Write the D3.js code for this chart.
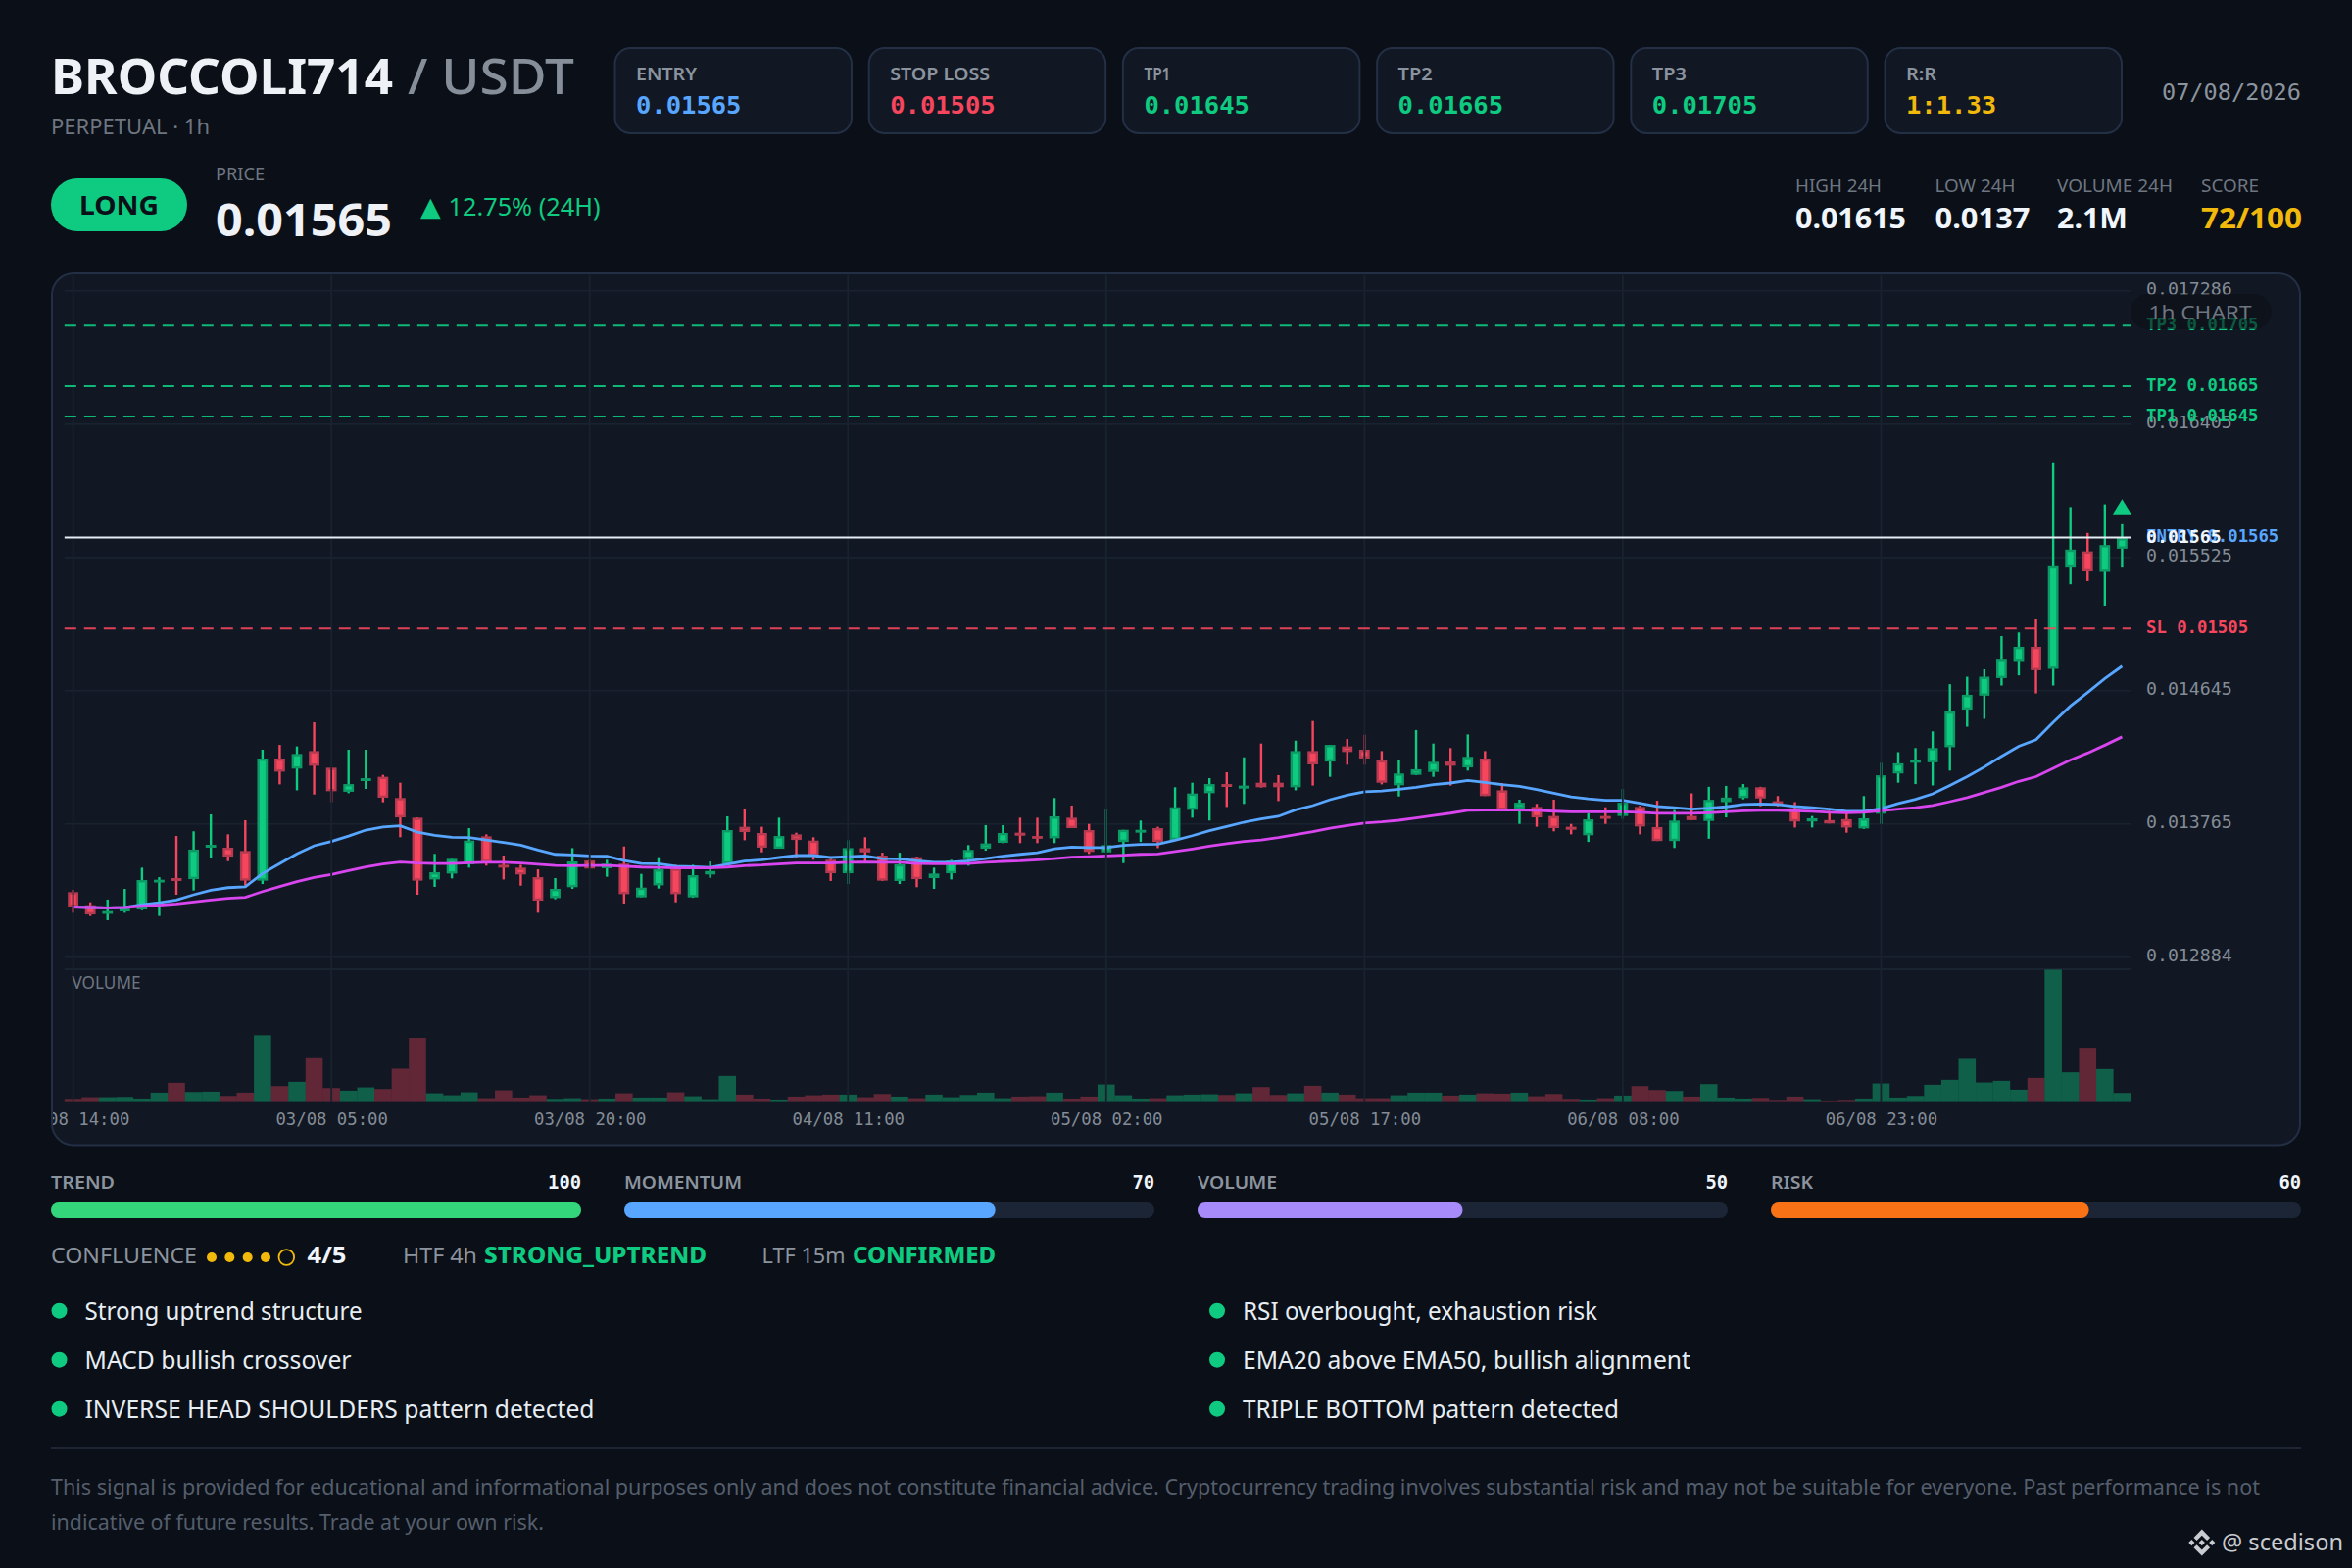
<!DOCTYPE html>
<html><head><meta charset="utf-8">
<script src="https://cdn.jsdelivr.net/npm/d3@7"></script>
<style>html,body{margin:0;padding:0;background:#0b0f17}svg{display:block}text{white-space:pre}</style>
</head><body><svg id="c" width="2400" height="1600"></svg>
<script>
// Prices in millionths of USDT (13765 = 0.013765)
const opens=[13314,13228,13172,13187,13200,13379,13407,13400,13608,13608,
13586,13390,14197,14130,14246,14136,13977,14048,14076,13936,
13806,13398,13437,13498,13683,13495,13476,13413,13275,13347,
13523,13472,13502,13280,13359,13470,13280,13431,13502,13746,
13705,13601,13696,13655,13528,13439,13605,13556,13388,13545,
13407,13439,13532,13601,13640,13707,13685,13670,13806,13724,
13577,13646,13707,13737,13659,13858,13968,14028,13998,14037,
14037,14007,14246,14177,14277,14255,14186,14020,14089,14108,
14177,14138,14197,13987,13867,13877,13817,13746,13690,13817,
13817,13877,13744,13652,13817,13784,13909,13936,14007,13915,
13869,13781,13790,13796,13735,13832,14098,14172,14172,14272,
14520,14612,14728,14841,14935,14789,15458,15565,15430,15583];
const closes=[13217,13167,13189,13206,13394,13396,13388,13595,13627,13549,
13390,14197,14110,14227,14149,13981,14028,14067,13938,13808,
13390,13446,13534,13655,13513,13476,13431,13258,13336,13517,
13470,13502,13301,13344,13465,13301,13426,13454,13724,13711,
13608,13685,13659,13554,13439,13605,13577,13390,13498,13400,
13437,13523,13593,13636,13705,13687,13668,13815,13737,13580,
13625,13726,13726,13646,13875,13966,14028,14009,14018,14007,
14007,14246,14158,14287,14240,14197,14037,14098,14126,14175,
14149,14208,13949,13858,13905,13808,13737,13726,13795,13798,
13905,13748,13652,13787,13790,13924,13939,14007,13933,13887,
13781,13802,13768,13741,13802,14086,14165,14187,14266,14508,
14618,14737,14856,14935,14780,15467,15577,15433,15607,15653];
const highs=[13329,13247,13265,13336,13476,13413,13685,13716,13828,13696,
13789,14255,14287,14277,14436,14138,14255,14255,14089,14037,
13808,13567,13534,13737,13696,13556,13495,13465,13407,13605,
13528,13528,13616,13435,13545,13495,13495,13517,13815,13867,
13746,13806,13707,13677,13534,13657,13677,13575,13575,13549,
13476,13528,13625,13757,13757,13806,13806,13936,13886,13765,
13867,13726,13787,13746,14007,14037,14067,14106,14205,14296,
14087,14315,14445,14287,14326,14354,14246,14186,14385,14296,
14266,14356,14246,14035,13925,13897,13925,13765,13836,13875,
13996,13886,13918,13857,13967,14010,14016,14028,14010,13949,
13909,13817,13851,13842,13949,14169,14239,14266,14376,14688,
14737,14786,15006,15030,15116,16154,15858,15687,15876,15745];
const lows=[13178,13157,13129,13178,13195,13157,13297,13325,13539,13519,
13357,13368,14026,13987,13959,13908,13968,13996,13908,13677,
13297,13349,13405,13476,13489,13398,13357,13178,13267,13336,
13470,13416,13239,13280,13338,13247,13277,13409,13498,13657,
13577,13601,13541,13528,13388,13368,13517,13388,13368,13347,
13336,13398,13489,13588,13638,13638,13638,13638,13737,13567,
13575,13506,13646,13605,13657,13806,13787,13877,13897,14005,
13916,13987,14018,14076,14156,14156,14026,13946,14087,14076,
14018,14117,13949,13854,13765,13746,13716,13696,13646,13765,
13798,13696,13652,13606,13790,13667,13808,13927,13881,13881,
13741,13741,13768,13707,13732,13765,14037,14028,14019,14117,
14407,14459,14679,14746,14627,14679,15348,15369,15207,15458];
const volumes=[7,12,12,13,8,26,56,28,29,16,26,201,46,59,131,40,32,42,37,99,
193,24,18,27,9,33,11,18,7,9,6,8,24,11,11,27,15,6,77,20,
8,5,14,18,20,20,12,22,14,9,20,12,19,26,9,14,15,26,8,14,
51,18,8,9,18,20,21,19,24,43,19,24,47,26,20,9,9,18,26,26,
17,20,24,23,26,15,22,7,5,9,17,46,34,31,14,52,11,8,10,4,
14,6,2,4,8,54,11,16,50,65,129,57,62,35,71,401,88,163,98,25];
const ema20=[13215,13213,13211,13213,13232,13245,13262,13297,13327,13344,
13349,13437,13502,13567,13621,13649,13685,13724,13744,13752,
13711,13690,13677,13675,13659,13642,13625,13593,13564,13560,
13554,13552,13523,13504,13502,13485,13482,13478,13498,13519,
13528,13543,13556,13556,13543,13549,13554,13536,13534,13521,
13511,13511,13521,13536,13552,13564,13575,13601,13612,13608,
13608,13623,13629,13631,13657,13687,13720,13748,13776,13798,
13815,13858,13886,13925,13955,13977,13983,13994,14007,14024,
14035,14052,14039,14024,14013,13992,13968,13944,13931,13921,
13921,13901,13881,13872,13863,13869,13878,13894,13897,13894,
13881,13872,13863,13848,13848,13866,13900,13927,13964,14019,
14077,14141,14211,14278,14321,14437,14544,14633,14725,14807];
const ema50=[13215,13213,13211,13213,13221,13228,13236,13249,13262,13273,
13280,13318,13351,13383,13411,13431,13457,13480,13500,13513,
13506,13504,13504,13508,13511,13511,13506,13498,13491,13489,
13491,13491,13485,13480,13478,13474,13474,13474,13480,13489,
13493,13500,13506,13506,13506,13511,13513,13511,13511,13504,
13502,13502,13504,13511,13517,13521,13528,13536,13545,13549,
13554,13558,13564,13567,13582,13599,13618,13634,13649,13659,
13675,13694,13713,13737,13754,13770,13778,13789,13804,13821,
13836,13854,13856,13856,13856,13854,13849,13845,13845,13845,
13845,13841,13835,13835,13835,13839,13845,13851,13854,13854,
13851,13848,13842,13839,13842,13851,13863,13872,13887,13912,
13939,13973,14007,14046,14077,14132,14187,14233,14285,14340];
const priceTicks=[17286,16405,15525,14645,13765,12884];
const timeLabels=["02/08 14:00","03/08 05:00","03/08 20:00","04/08 11:00","05/08 02:00","05/08 17:00","06/08 08:00","06/08 23:00"];
const levelNames=["TP3","TP2","TP1","SL"];
const levelValues=[17050,16650,16450,15050];
const entryValue=15650;
const cardLabels=["ENTRY","STOP LOSS","TP1","TP2","TP3","R:R"];
const cardValues=["0.01565","0.01505","0.01645","0.01665","0.01705","1:1.33"];
const cardColors=["#58a6ff","#f6465d","#0ecb81","#0ecb81","#0ecb81","#f0b90b"];
const statLabels=["HIGH 24H","LOW 24H","VOLUME 24H","SCORE"];
const statValues=["0.01615","0.0137","2.1M","72/100"];
const metricLabels=["TREND","MOMENTUM","VOLUME","RISK"];
const metricValues=[100,70,50,60];
const metricColors=["#34d67c","#58a6ff","#a78bfa","#f97316"];
const bulletsLeft=["Strong uptrend structure","MACD bullish crossover","INVERSE HEAD SHOULDERS pattern detected"];
const bulletsRight=["RSI overbought, exhaustion risk","EMA20 above EMA50, bullish alignment","TRIPLE BOTTOM pattern detected"];
const confluenceDots=[1,1,1,1,0];

const SANS='"Noto Sans",sans-serif', MONO='"DejaVu Sans Mono",monospace';
const GREEN='#0ecb81', RED='#f6465d', PANEL='#111824', BORDER='#232f45', GRID='#18232f';
const fmt=v=>(v/1e6).toFixed(6), fmt5=v=>(v/1e6).toFixed(5);
const svg=d3.select('#c');
function T(g,x,y,s,o={}){const t=g.append('text').attr('x',x).attr('y',y).text(s)
 .attr('font-family',o.f||SANS).attr('font-size',o.s||20).attr('font-weight',o.w||400)
 .attr('fill',o.c||'#e6edf3').attr('text-anchor',o.a||'start');
 if(o.ls) t.attr('letter-spacing',o.ls);
 if(o.tl) t.attr('textLength',o.tl).attr('lengthAdjust','spacingAndGlyphs');
 return t;}
svg.append('rect').attr('width',2400).attr('height',1600).attr('fill','#0b0f17');

// header
T(svg,52,96,'BROCCOLI714',{s:50.5,w:700,c:'#eef2f7',tl:349});
T(svg,416,96,'/ USDT',{s:50.5,w:500,c:'#868e99',tl:170});
T(svg,52,137,'PERPETUAL · 1h',{s:22,c:'#6e7681',tl:162});
const cardX=d3.scaleLinear().domain([0,5]).range([627.5,1923.5]);
const cardLabelW=[62,102,27,35,35,31];
cardLabels.forEach((l,i)=>{const x=cardX(i);
 svg.append('rect').attr('x',x).attr('y',49).attr('width',241.5).attr('height',87).attr('rx',16)
  .attr('fill',PANEL).attr('stroke',BORDER).attr('stroke-width',2);
 T(svg,x+21.5,82,l,{s:17.5,w:600,c:'#8b949e',tl:cardLabelW[i]});
 T(svg,x+21.5,115.5,cardValues[i],{s:25.5,w:700,f:MONO,c:cardColors[i]});
});
T(svg,2348,101.5,'07/08/2026',{s:23.6,f:MONO,c:'#8b949e',a:'end'});

// signal row
svg.append('rect').attr('x',52).attr('y',182).attr('width',139).attr('height',54).attr('rx',27).attr('fill',GREEN);
T(svg,121.5,218.5,'LONG',{s:26,w:700,c:'#0b0f17',a:'middle',tl:81});
T(svg,220,184,'PRICE',{s:18,c:'#6e7681',tl:50});
T(svg,220,241,'0.01565',{s:47,w:700,c:'#eef2f7',tl:180});
T(svg,429,220,'▲',{s:27,f:'"DejaVu Sans"',c:GREEN});
T(svg,457.5,220,'12.75% (24H)',{s:24.5,c:GREEN,tl:155});
const statX=[1832,1974.5,2099,2246];
const statLabelW=[88,82,118,59];
const statValueW=[113,97,72,103];
statLabels.forEach((l,i)=>{
 T(svg,statX[i],196,l,{s:17.5,c:'#6e7681',tl:statLabelW[i]});
 T(svg,statX[i],233,statValues[i],{s:29,w:700,c:i==3?'#f0b90b':'#f0f6fc',tl:statValueW[i]});
});

// chart panel
svg.append('rect').attr('x',53).attr('y',279).attr('width',2294).attr('height',889.5).attr('rx',22)
 .attr('fill',PANEL).attr('stroke',BORDER).attr('stroke-width',2);
svg.append('clipPath').attr('id','pc').append('rect').attr('x',54).attr('y',280).attr('width',2292).attr('height',888).attr('rx',20);
const P=svg.append('g').attr('clip-path','url(#pc)');
const x=d3.scaleLinear().domain([0,opens.length-1]).range([74.6,2165.4]);
const y=d3.scaleLinear().domain([12884,17286]).range([976.8,296.8]);
const vY=d3.scaleLinear().domain([0,d3.max(volumes)]).range([1123.6,989.5]);
const step=x(1)-x(0), L=x(0)-step/2, R=x(opens.length-1)+step/2;

// horizontal grid
P.append('g').selectAll('line').data(priceTicks).join('line')
 .attr('x1',L).attr('x2',R).attr('y1',d=>y(d)).attr('y2',d=>y(d)).attr('stroke',GRID).attr('stroke-width',1.6);
P.append('line').attr('x1',L).attr('x2',R).attr('y1',989).attr('y2',989).attr('stroke','#1c2735').attr('stroke-width',1.6);

// volume
P.append('g').selectAll('rect').data(volumes).join('rect')
 .attr('x',(d,i)=>x(i)-step/2).attr('width',step).attr('y',d=>vY(d)).attr('height',d=>vY(0)-vY(d))
 .attr('fill',(d,i)=>closes[i]>=opens[i]?GREEN:RED).attr('fill-opacity',(d,i)=>closes[i]>=opens[i]?0.4:0.35);

// candles
const cg=P.append('g');
opens.forEach((o,i)=>{const up=closes[i]>=o,c=up?GREEN:RED,s=up?'#0c9b65':'#b83a50';
 cg.append('line').attr('x1',x(i)).attr('x2',x(i)).attr('y1',y(highs[i])).attr('y2',y(lows[i])).attr('stroke',c).attr('stroke-width',2.4);
 const t=y(Math.max(o,closes[i]))+1.2,b=y(Math.min(o,closes[i]))-1.2;
 cg.append('rect').attr('x',x(i)-4.2).attr('width',8.4).attr('y',t).attr('height',Math.max(b-t,0.4))
  .attr('fill',c).attr('stroke',s).attr('stroke-width',2.4);
});

// EMA lines
const ln=d3.line().x((d,i)=>x(i)).y(d=>y(d));
P.append('path').attr('d',ln(ema20)).attr('fill','none').attr('stroke','#58a6ff').attr('stroke-width',2.8);
P.append('path').attr('d',ln(ema50)).attr('fill','none').attr('stroke','#d946ef').attr('stroke-width',2.8);

// vertical grid (over the series)
const timeIdx=timeLabels.map((d,i)=>i*15);
P.append('g').selectAll('line').data(timeIdx).join('line')
 .attr('x1',d=>x(d)).attr('x2',d=>x(d)).attr('y1',281).attr('y2',1124).attr('stroke',GRID).attr('stroke-width',1.8);
T(P,73.5,1009,'VOLUME',{s:18,c:'#6e7681',tl:70});

// levels
const lg=P.append('g');
levelValues.forEach((v,i)=>{const c=levelNames[i]=='SL'?RED:GREEN;
 lg.append('line').attr('x1',L).attr('x2',R).attr('y1',y(v)-1).attr('y2',y(v)-1)
  .attr('stroke',c).attr('stroke-opacity',0.9).attr('stroke-width',2).attr('stroke-dasharray','12 8');
});
lg.append('line').attr('x1',L).attr('x2',R).attr('y1',y(entryValue)-1).attr('y2',y(entryValue)-1)
 .attr('stroke','#e6edf3').attr('stroke-width',2.2);

// signal marker
const mx=x(opens.length-1), my=y(highs[highs.length-1]);
P.append('path').attr('d',d3.line()([[mx-9.5,my-10],[mx+9.5,my-10],[mx,my-25.5]])+'Z').attr('fill',GREEN);

// axes
const ya=P.append('g').attr('transform','translate(2174,0)')
 .call(d3.axisRight(y).tickValues(priceTicks).tickFormat(fmt).tickSize(0).tickPadding(16));
ya.select('.domain').remove();
ya.selectAll('text').attr('dy',4).attr('font-family',MONO).attr('font-size',18.2).attr('fill','#848c96');
const xa=P.append('g').attr('transform','translate(0,1124)')
 .call(d3.axisBottom(x).tickValues(timeIdx).tickFormat((d,i)=>timeLabels[i]).tickSize(0).tickPadding(24));
xa.select('.domain').remove();
xa.selectAll('text').attr('dy',0).attr('font-family',MONO).attr('font-size',17.3).attr('fill','#848c96');

// level labels
levelValues.forEach((v,i)=>{const c=levelNames[i]=='SL'?RED:GREEN;
 T(P,2190,y(v)+4,levelNames[i]+' '+fmt5(v),{s:17.3,w:700,f:MONO,c});
});
T(P,2190,y(entryValue)+3,'ENTRY '+fmt5(entryValue),{s:17.3,w:700,f:MONO,c:'#58a6ff'});
T(P,2190,y(entryValue)+4,fmt5(entryValue),{s:18.2,w:700,f:MONO,c:'#f0f6fc'});

// badge
P.append('rect').attr('x',2174).attr('y',300).attr('width',144).attr('height',36).attr('rx',18).attr('fill','#0b0f17').attr('fill-opacity',0.62);
T(P,2192.5,326,'1h CHART',{s:19.5,c:'#6e7681',tl:105});

// metrics
const mX=d3.scaleLinear().domain([0,3]).range([52,1807]);
const mW=d3.scaleLinear().domain([0,100]).range([0,541]);
const metricLabelW=[65,120,81,43];
metricLabels.forEach((l,i)=>{const X=mX(i);
 T(svg,X,1213,l,{s:17.5,w:600,c:'#8b949e',tl:metricLabelW[i]});
 T(svg,X+541,1213,metricValues[i],{s:18.8,w:700,f:MONO,c:'#f0f6fc',a:'end'});
 svg.append('rect').attr('x',X).attr('y',1227).attr('width',541).attr('height',16).attr('rx',8).attr('fill','#1c2536');
 svg.append('rect').attr('x',X).attr('y',1227).attr('width',mW(metricValues[i])).attr('height',16).attr('rx',8).attr('fill',metricColors[i]);
});

// confluence row
T(svg,52,1289,'CONFLUENCE',{s:22.5,c:'#8b949e',tl:149});
const dotX=d3.scaleLinear().domain([0,3]).range([216,271]);
confluenceDots.forEach((d,i)=>{
 if(d) svg.append('circle').attr('cx',dotX(i)).attr('cy',1283).attr('r',5).attr('fill','#f0b90b');
 else svg.append('circle').attr('cx',292.3).attr('cy',1283).attr('r',7.8).attr('fill','none').attr('stroke','#f0b90b').attr('stroke-width',1.8);
});
T(svg,313.5,1289,'4/5',{s:23,w:700,c:'#f0f6fc',tl:40});
T(svg,411,1289,'HTF 4h',{s:22.5,c:'#8b949e',tl:76});
T(svg,494,1289,'STRONG_UPTREND',{s:23,w:800,c:GREEN,tl:227});
T(svg,777.5,1289,'LTF 15m',{s:22.5,c:'#8b949e',tl:85});
T(svg,870,1289,'CONFIRMED',{s:23,w:800,c:GREEN,tl:146});

// bullets
const bulletLeftW=[283,272,520], bulletRightW=[362,457,384];
[[60.5,86.5,bulletsLeft,bulletLeftW],[1242,1268,bulletsRight,bulletRightW]].forEach(([dx,tx,arr,w])=>arr.forEach((s,i)=>{
 svg.append('circle').attr('cx',dx).attr('cy',1337.7+50*i).attr('r',8).attr('fill',GREEN);
 T(svg,tx,1347+50*i,s,{s:25,c:'#e6edf3',tl:w[i]});
}));

// footer
svg.append('line').attr('x1',52).attr('x2',2348).attr('y1',1478).attr('y2',1478).attr('stroke','#1e2636').attr('stroke-width',2);
T(svg,52,1525,'This signal is provided for educational and informational purposes only and does not constitute financial advice. Cryptocurrency trading involves substantial risk and may not be suitable for everyone. Past performance is not',{s:22.5,c:'#545e6c',tl:2254});
T(svg,52,1561,'indicative of future results. Trade at your own risk.',{s:22.5,c:'#545e6c',tl:503});
svg.append('path').attr('transform','translate(2233.3,1560.6) scale(0.2133)')
 .attr('d','M38.73 53.2 63.3 28.63l24.59 24.58 14.3-14.3L63.3 0 24.43 38.9zM0 63.3l14.3-14.3 14.3 14.3-14.3 14.3zM38.73 73.41 63.3 97.98l24.59-24.58 14.3 14.29h-.01L63.3 126.6 24.43 87.73l-.02-.02zM98 63.31l14.3-14.3 14.31 14.3-14.31 14.3zM77.83 63.3 63.3 48.78 52.58 59.5l-1.24 1.23-2.53 2.54 14.49 14.49 14.53-14.46z')
 .attr('fill','#c8ccd0');
T(svg,2267,1582,'@ scedison',{s:24,c:'#c8ccd0',tl:124});
</script></body></html>
